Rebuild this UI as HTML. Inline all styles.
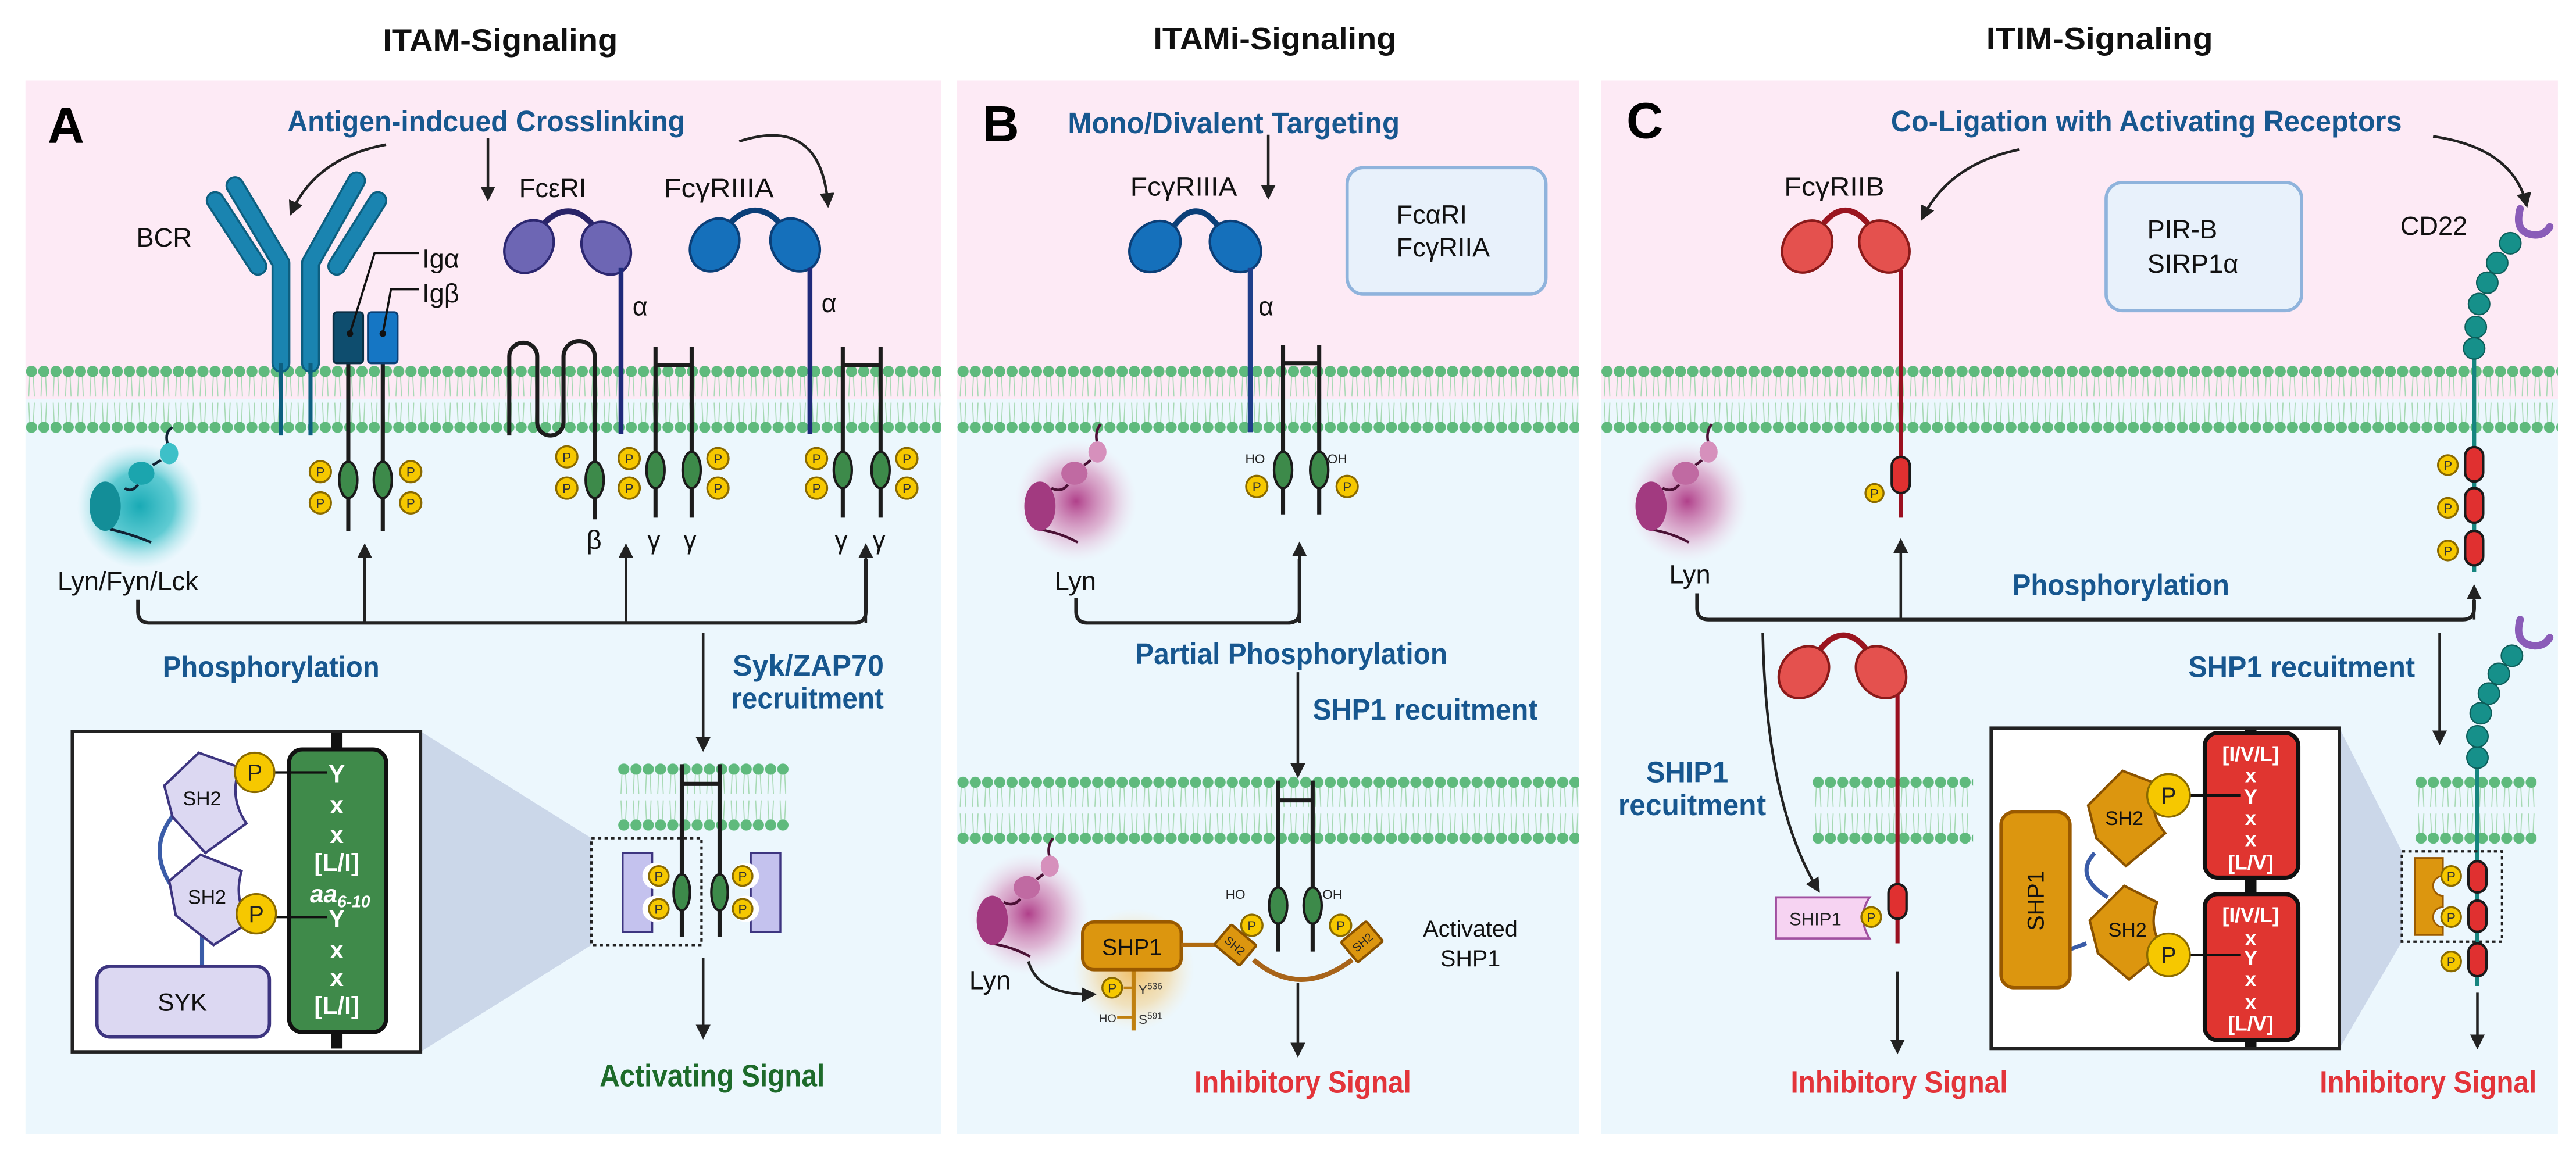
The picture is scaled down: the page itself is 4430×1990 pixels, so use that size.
<!DOCTYPE html>
<html><head><meta charset="utf-8"><style>
html,body{margin:0;padding:0;background:#fff;}
svg{display:block;}
text{font-family:"Liberation Sans","DejaVu Sans",sans-serif;}
.t{font-size:19px;font-weight:bold;fill:#111;}
.L{font-size:31px;font-weight:bold;fill:#000;}
.bl{font-size:18px;font-weight:bold;fill:#17578f;}
.rd{font-size:19px;font-weight:bold;fill:#e3343a;}
.gr{font-size:19px;font-weight:bold;fill:#1d6b2a;}
.n{font-size:16px;fill:#111;}
.s{font-size:14px;fill:#111;}
.wt{font-size:15px;font-weight:bold;fill:#fff;text-anchor:middle;}
.wt2{font-size:12.5px;font-weight:bold;fill:#fff;text-anchor:middle;}
.p{fill:#f6c800;stroke:#8a6a00;stroke-width:1.2;}
.pt{font-size:8px;fill:#333;text-anchor:middle;}
.ch{stroke:#1c1c1c;stroke-width:2.5;fill:none;}
.ov{fill:#3d8a4a;stroke:#1a1a1a;stroke-width:1.5;}
.ar{stroke:#222;stroke-width:1.6;fill:none;marker-end:url(#ah);}
.cn{stroke:#222;stroke-width:2.2;fill:none;}
.itim{fill:#e03030;stroke:#1a1a1a;stroke-width:1.5;}
.sh2l{fill:#dcd8f2;stroke:#3d3580;stroke-width:1.5;}
.sh2o{fill:#dc960f;stroke:#8a5200;stroke-width:1.5;}
</style></head><body>
<svg width="4430" height="1990" viewBox="0 0 1568 704" preserveAspectRatio="none" xmlns="http://www.w3.org/2000/svg">
<defs>
<marker id="ah" markerWidth="9" markerHeight="9" refX="7.5" refY="4.5" orient="auto" markerUnits="userSpaceOnUse">
<path d="M0,0 L9,4.5 L0,9 Z" fill="#222"/></marker>
<pattern id="mem" width="7.45" height="42" patternUnits="userSpaceOnUse">
<path d="M2.6,7 L2,19 M4.8,7 L5.4,19 M2.6,35 L2,23 M4.8,35 L5.4,23" stroke="#a6d9b3" stroke-width="0.6" fill="none"/>
<circle cx="3.7" cy="4" r="3.4" fill="#5fba7d"/><circle cx="3.7" cy="38" r="3.4" fill="#5fba7d"/>
</pattern>
<radialGradient id="gT"><stop offset="0" stop-color="#19aab5"/><stop offset="0.55" stop-color="#3cc0c8" stop-opacity="0.8"/><stop offset="1" stop-color="#9fe0e6" stop-opacity="0"/></radialGradient>
<radialGradient id="gM"><stop offset="0" stop-color="#b0408a"/><stop offset="0.55" stop-color="#d48ab8" stop-opacity="0.6"/><stop offset="1" stop-color="#f0d0e4" stop-opacity="0"/></radialGradient>
<radialGradient id="gO"><stop offset="0" stop-color="#f0b040" stop-opacity="0.8"/><stop offset="0.6" stop-color="#f5cc80" stop-opacity="0.5"/><stop offset="1" stop-color="#fae6c0" stop-opacity="0"/></radialGradient>
</defs>

<text class="t" x="233" y="31" textLength="143" lengthAdjust="spacingAndGlyphs">ITAM-Signaling</text>
<text class="t" x="702" y="30" textLength="148" lengthAdjust="spacingAndGlyphs">ITAMi-Signaling</text>
<text class="t" x="1209" y="30" textLength="138" lengthAdjust="spacingAndGlyphs">ITIM-Signaling</text>

<rect x="15.5" y="49" width="557.5" height="194" fill="#fdeaf5"/>
<rect x="15.5" y="243" width="557.5" height="447" fill="#ecf7fd"/>
<rect x="582.5" y="49" width="378.5" height="194" fill="#fdeaf5"/>
<rect x="582.5" y="243" width="378.5" height="447" fill="#ecf7fd"/>
<rect x="974.5" y="49" width="582.5" height="194" fill="#fdeaf5"/>
<rect x="974.5" y="243" width="582.5" height="447" fill="#ecf7fd"/>

<g transform="translate(15.5,222)"><rect width="557.5" height="42" fill="url(#mem)"/></g>
<g transform="translate(582.5,222)"><rect width="378.5" height="42" fill="url(#mem)"/></g>
<g transform="translate(974.5,222)"><rect width="582.5" height="42" fill="url(#mem)"/></g>

<!-- PANEL A -->
<text class="L" x="29" y="87">A</text>
<text class="bl" x="175" y="80" textLength="242" lengthAdjust="spacingAndGlyphs">Antigen-indcued Crosslinking</text>
<path class="ar" d="M235,88 Q192,96 177,130"/>
<path class="ar" d="M297,84 V121"/>
<path class="ar" d="M450,86 Q500,70 504,125"/>

<text class="n" x="83" y="150">BCR</text>
<g stroke-linecap="round" stroke-linejoin="round" fill="none">
<polyline points="143,113 171,160 171,221" stroke="#0d5f80" stroke-width="11.5"/>
<polyline points="217,110 189,160 189,221" stroke="#0d5f80" stroke-width="11.5"/>
<line x1="131" y1="122" x2="157" y2="162" stroke="#0d5f80" stroke-width="11.5"/>
<line x1="230" y1="122" x2="205" y2="162" stroke="#0d5f80" stroke-width="11.5"/>
<polyline points="143,113 171,160 171,221" stroke="#1a84b0" stroke-width="9"/>
<polyline points="217,110 189,160 189,221" stroke="#1a84b0" stroke-width="9"/>
<line x1="131" y1="122" x2="157" y2="162" stroke="#1a84b0" stroke-width="9"/>
<line x1="230" y1="122" x2="205" y2="162" stroke="#1a84b0" stroke-width="9"/>
</g>
<path d="M171,221 V265 M189,221 V265" stroke="#0d5f80" stroke-width="2.5"/>
<path class="ch" d="M212,220 V323 M233,220 V323"/>
<rect x="203" y="190" width="18" height="31" rx="2" fill="#0e4d6e" stroke="#0a2f45" stroke-width="1.2"/>
<rect x="224" y="190" width="18" height="31" rx="2" fill="#1576c4" stroke="#0a3f75" stroke-width="1.2"/>
<path d="M255,154 H228 L213,203 M255,176 H238 L233,203" stroke="#111" stroke-width="1.3" fill="none"/>
<circle cx="213" cy="203" r="2" fill="#111"/><circle cx="233" cy="203" r="2" fill="#111"/>
<text class="n" x="257" y="163">Igα</text>
<text class="n" x="257" y="184">Igβ</text>
<ellipse class="ov" cx="212" cy="292" rx="5.5" ry="11"/><ellipse class="ov" cx="233" cy="292" rx="5.5" ry="11"/>
<circle class="p" cx="195" cy="287" r="6.5"/><text class="pt" x="195" y="290">P</text>
<circle class="p" cx="195" cy="306" r="6.5"/><text class="pt" x="195" y="309">P</text>
<circle class="p" cx="250" cy="287" r="6.5"/><text class="pt" x="250" y="290">P</text>
<circle class="p" cx="250" cy="306" r="6.5"/><text class="pt" x="250" y="309">P</text>

<text class="n" x="316" y="120">FcεRI</text>
<path d="M330,137 Q346,120 361,137" stroke="#2a2468" stroke-width="3.5" fill="none"/>
<ellipse cx="322" cy="150" rx="14" ry="17" transform="rotate(35 322 150)" fill="#6d66b4" stroke="#2c2770" stroke-width="1.5"/>
<ellipse cx="369" cy="151" rx="14" ry="17" transform="rotate(-35 369 151)" fill="#6d66b4" stroke="#2c2770" stroke-width="1.5"/>
<path d="M378,163 V264" stroke="#1f2a7a" stroke-width="3"/>
<text class="n" x="385" y="192">α</text>
<path class="ch" d="M310,265 V217 A8.5,8.5 0 0 1 327,217 V257 A8,8 0 0 0 343,257 V217 A9.5,9.5 0 0 1 362,217 V316"/>
<ellipse class="ov" cx="362" cy="292" rx="5.5" ry="11"/>
<circle class="p" cx="345" cy="278" r="6.5"/><text class="pt" x="345" y="281">P</text>
<circle class="p" cx="345" cy="297" r="6.5"/><text class="pt" x="345" y="300">P</text>
<path class="ch" d="M399,211 V315 M421,211 V315 M399,222 H421"/>
<ellipse class="ov" cx="399" cy="286" rx="5.5" ry="11"/><ellipse class="ov" cx="421" cy="286" rx="5.5" ry="11"/>
<circle class="p" cx="383" cy="279" r="6.5"/><text class="pt" x="383" y="282">P</text>
<circle class="p" cx="383" cy="297" r="6.5"/><text class="pt" x="383" y="300">P</text>
<circle class="p" cx="437" cy="279" r="6.5"/><text class="pt" x="437" y="282">P</text>
<circle class="p" cx="437" cy="297" r="6.5"/><text class="pt" x="437" y="300">P</text>
<text class="n" x="357" y="334">β</text><text class="n" x="394" y="334">γ</text><text class="n" x="416" y="334">γ</text>

<text class="n" x="404" y="120" textLength="67" lengthAdjust="spacingAndGlyphs">FcγRIIIA</text>
<path d="M444,136 Q460,120 475,136" stroke="#0b3f78" stroke-width="3.5" fill="none"/>
<ellipse cx="435" cy="149" rx="14" ry="17" transform="rotate(35 435 149)" fill="#1570bb" stroke="#0b3f78" stroke-width="1.5"/>
<ellipse cx="484" cy="149" rx="14" ry="17" transform="rotate(-35 484 149)" fill="#1570bb" stroke="#0b3f78" stroke-width="1.5"/>
<path d="M493,163 V264" stroke="#1f2a7a" stroke-width="3"/>
<text class="n" x="500" y="190">α</text>
<path class="ch" d="M513,211 V315 M536,211 V315 M513,222 H536"/>
<ellipse class="ov" cx="513" cy="286" rx="5.5" ry="11"/><ellipse class="ov" cx="536" cy="286" rx="5.5" ry="11"/>
<circle class="p" cx="497" cy="279" r="6.5"/><text class="pt" x="497" y="282">P</text>
<circle class="p" cx="497" cy="297" r="6.5"/><text class="pt" x="497" y="300">P</text>
<circle class="p" cx="552" cy="279" r="6.5"/><text class="pt" x="552" y="282">P</text>
<circle class="p" cx="552" cy="297" r="6.5"/><text class="pt" x="552" y="300">P</text>
<text class="n" x="508" y="334">γ</text><text class="n" x="531" y="334">γ</text>

<circle cx="85" cy="308" r="38" fill="url(#gT)"/>
<path d="M105,260 Q100,263 102,270 M93,283 L98,280 M76,297 Q80,300 84,295 M67,322 Q80,325 92,330" stroke="#123" stroke-width="1.6" fill="none"/>
<ellipse cx="64" cy="308" rx="9.5" ry="15" fill="#138e98"/>
<ellipse cx="86" cy="288" rx="8" ry="7" fill="#1ba5ae"/>
<ellipse cx="103" cy="276" rx="5.5" ry="6.5" fill="#3dc0c8"/>
<text class="n" x="35" y="359">Lyn/Fyn/Lck</text>
<path class="cn" d="M84,365 V372 Q84,379 91,379 H520 Q527,379 527,372 V340"/>
<path class="ar" d="M222,379 V332"/>
<path class="ar" d="M381,379 V332"/>
<path class="ar" d="M527,379 V332"/>

<text class="bl" x="99" y="412" textLength="132" lengthAdjust="spacingAndGlyphs">Phosphorylation</text>
<text class="bl" x="446" y="411" textLength="92" lengthAdjust="spacingAndGlyphs">Syk/ZAP70</text>
<text class="bl" x="445" y="431" textLength="93" lengthAdjust="spacingAndGlyphs">recruitment</text>
<path class="ar" d="M428,385 V456"/>

<polygon points="256,445 360,510 360,575 256,640" fill="#c6d1e5" opacity="0.85"/>
<rect x="44" y="445" width="212" height="195" fill="#fff" stroke="#222" stroke-width="2"/>
<rect x="201.5" y="446" width="7" height="192" fill="#111"/>
<rect x="176" y="456" width="59" height="172" rx="8" fill="#3f8a4a" stroke="#111" stroke-width="2.5"/>
<text class="wt" x="205" y="476">Y</text>
<text class="wt" x="205" y="495">x</text>
<text class="wt" x="205" y="513">x</text>
<text class="wt" x="205" y="530">[L/I]</text>
<text class="wt" x="207" y="549" font-style="italic">aa<tspan font-size="10" dy="3">6-10</tspan></text>
<text class="wt" x="205" y="564">Y</text>
<text class="wt" x="205" y="583">x</text>
<text class="wt" x="205" y="600">x</text>
<text class="wt" x="205" y="617">[L/I]</text>
<path d="M108,493 Q88,515 105,540" stroke="#3a5ca8" stroke-width="2.5" fill="none"/>
<path d="M123,566 V588" stroke="#3a5ca8" stroke-width="2.5"/>
<path class="sh2l" d="M100,478 L121,458 L146,467 Q139,485 150,501 L125,519 L105,497 Z"/>
<path class="sh2l" d="M103,536 L122,520 L147,530 Q142,548 152,561 L130,575 L107,557 Z"/>
<text x="123" y="490" font-size="12" fill="#111" text-anchor="middle">SH2</text>
<text x="126" y="550" font-size="12" fill="#111" text-anchor="middle">SH2</text>
<path d="M166,470 H199 M167,558 H199" stroke="#111" stroke-width="1.5"/>
<circle class="p" cx="155" cy="470" r="12" stroke-width="2"/><text x="155" y="475" font-size="14" text-anchor="middle" fill="#222">P</text>
<circle class="p" cx="156" cy="556" r="12" stroke-width="2"/><text x="156" y="561" font-size="14" text-anchor="middle" fill="#222">P</text>
<rect x="59" y="588" width="105" height="43" rx="8" fill="#dcd8f2" stroke="#3d3580" stroke-width="2"/>
<text x="111" y="615" font-size="15" fill="#111" text-anchor="middle">SYK</text>

<g transform="translate(376,464)"><rect width="104" height="42" fill="url(#mem)"/></g>
<path class="ch" d="M415,465 V570 M438,465 V570 M415,477 H438"/>
<rect x="379" y="519" width="18" height="48" fill="#c4c2ee" stroke="#3d3580" stroke-width="1.2"/>
<rect x="457" y="519" width="18" height="48" fill="#c4c2ee" stroke="#3d3580" stroke-width="1.2"/>
<circle cx="399" cy="533" r="8" fill="#fff"/><circle cx="399" cy="553" r="8" fill="#fff"/>
<circle cx="454" cy="533" r="8" fill="#fff"/><circle cx="454" cy="553" r="8" fill="#fff"/>
<ellipse class="ov" cx="415" cy="543" rx="5" ry="11"/><ellipse class="ov" cx="438" cy="543" rx="5" ry="11"/>
<circle class="p" cx="401" cy="533" r="6"/><text class="pt" x="401" y="536">P</text>
<circle class="p" cx="401" cy="553" r="6"/><text class="pt" x="401" y="556">P</text>
<circle class="p" cx="452" cy="533" r="6"/><text class="pt" x="452" y="536">P</text>
<circle class="p" cx="452" cy="553" r="6"/><text class="pt" x="452" y="556">P</text>
<rect x="360" y="510" width="67" height="65" fill="none" stroke="#222" stroke-width="1.5" stroke-dasharray="2 2"/>
<path class="ar" d="M428,583 V631"/>
<text class="gr" x="365" y="661" textLength="137" lengthAdjust="spacingAndGlyphs">Activating Signal</text>

<!-- PANEL B -->
<text class="L" x="598" y="86">B</text>
<text class="bl" x="650" y="81" textLength="202" lengthAdjust="spacingAndGlyphs">Mono/Divalent Targeting</text>
<path class="ar" d="M772,82 V120"/>
<text class="n" x="688" y="119" textLength="65" lengthAdjust="spacingAndGlyphs">FcγRIIIA</text>
<path d="M715,137 Q728,120 741,137" stroke="#0b3f78" stroke-width="3.5" fill="none"/>
<ellipse cx="703" cy="150" rx="14" ry="17" transform="rotate(45 703 150)" fill="#1570bb" stroke="#0b3f78" stroke-width="1.5"/>
<ellipse cx="752" cy="150" rx="14" ry="17" transform="rotate(-45 752 150)" fill="#1570bb" stroke="#0b3f78" stroke-width="1.5"/>
<path d="M761,163 V263" stroke="#1f3f8a" stroke-width="3"/>
<text class="n" x="766" y="192">α</text>
<path class="ch" d="M781,210 V313 M803,210 V313 M781,221 H803"/>
<ellipse class="ov" cx="781" cy="286" rx="5.5" ry="11"/><ellipse class="ov" cx="803" cy="286" rx="5.5" ry="11"/>
<text x="758" y="282" font-size="8" fill="#222">HO</text><text x="808" y="282" font-size="8" fill="#222">OH</text>
<circle class="p" cx="765" cy="296" r="6.5"/><text class="pt" x="765" y="299">P</text>
<circle class="p" cx="820" cy="296" r="6.5"/><text class="pt" x="820" y="299">P</text>
<rect x="820" y="102" width="121" height="77" rx="10" fill="#e8f1fb" stroke="#8fb3dc" stroke-width="2"/>
<text class="n" x="850" y="136">FcαRI</text>
<text class="n" x="850" y="156">FcγRIIA</text>

<circle cx="655" cy="305" r="37" fill="url(#gM)"/>
<path d="M670,258 Q666,263 668,270 M660,283 L664,280 M640,297 Q646,300 650,295 M632,322 Q645,324 656,330" stroke="#4a1034" stroke-width="1.6" fill="none"/>
<ellipse cx="633" cy="308" rx="9.5" ry="15" fill="#a23a80"/>
<ellipse cx="654" cy="288" rx="8" ry="7" fill="#c06aa2"/>
<ellipse cx="668" cy="275" rx="5.5" ry="6.5" fill="#d690bc"/>
<text class="n" x="642" y="359">Lyn</text>
<path class="cn" d="M655,364 V372 Q655,379 662,379 H784 Q791,379 791,372 V340"/>
<path class="ar" d="M791,379 V331"/>
<text class="bl" x="691" y="404" textLength="190" lengthAdjust="spacingAndGlyphs">Partial Phosphorylation</text>
<text class="bl" x="799" y="438" textLength="137" lengthAdjust="spacingAndGlyphs">SHP1 recuitment</text>
<path class="ar" d="M790,409 V472"/>
<g transform="translate(582.5,472)"><rect width="378.5" height="42" fill="url(#mem)"/></g>
<path class="ch" d="M778,475 V579 M799,475 V579 M778,487 H799"/>
<ellipse class="ov" cx="778" cy="551" rx="5.5" ry="11"/><ellipse class="ov" cx="799" cy="551" rx="5.5" ry="11"/>
<text x="746" y="547" font-size="8" fill="#222">HO</text><text x="805" y="547" font-size="8" fill="#222">OH</text>
<circle class="p" cx="762" cy="563" r="6.5"/><text class="pt" x="762" y="566">P</text>
<circle class="p" cx="816" cy="563" r="6.5"/><text class="pt" x="816" y="566">P</text>

<circle cx="626" cy="556" r="37" fill="url(#gM)"/>
<path d="M641,510 Q637,515 639,522 M631,535 L635,532 M611,549 Q617,552 621,547 M603,574 Q616,576 627,582" stroke="#4a1034" stroke-width="1.6" fill="none"/>
<ellipse cx="604" cy="560" rx="9.5" ry="15" fill="#a23a80"/>
<ellipse cx="625" cy="540" rx="8" ry="7" fill="#c06aa2"/>
<ellipse cx="639" cy="527" rx="5.5" ry="6.5" fill="#d690bc"/>
<text class="n" x="590" y="602">Lyn</text>
<circle cx="690" cy="590" r="37" fill="url(#gO)"/>
<path class="ar" d="M626,585 Q632,606 666,605"/>
<path d="M690,590 V627" stroke="#c08010" stroke-width="2.5"/>
<path d="M684,601 H690 M680,619 H690" stroke="#c08010" stroke-width="1.5"/>
<circle class="p" cx="677" cy="601" r="6"/><text class="pt" x="677" y="604">P</text>
<text x="693" y="605" font-size="8" fill="#333">Y<tspan font-size="5.5" dy="-3">536</tspan></text>
<text x="669" y="622" font-size="7" fill="#333">HO</text>
<text x="693" y="623" font-size="8" fill="#333">S<tspan font-size="5.5" dy="-3">591</tspan></text>
<rect x="659" y="561" width="60" height="29" rx="7" fill="#dc960f" stroke="#9a5a00" stroke-width="2"/>
<text x="689" y="581" font-size="14" fill="#111" text-anchor="middle">SHP1</text>
<path d="M719,575 H741" stroke="#b06a10" stroke-width="2.5"/>
<path d="M763,584 Q791,608 823,584" stroke="#a8641a" stroke-width="3" fill="none"/>
<g transform="translate(752,575) rotate(40)"><rect class="sh2o" x="-10" y="-8" width="20" height="16" rx="1"/><text x="0" y="3" font-size="7" text-anchor="middle" fill="#222">SH2</text></g>
<g transform="translate(829,573) rotate(-40)"><rect class="sh2o" x="-10" y="-8" width="20" height="16" rx="1"/><text x="0" y="3" font-size="7" text-anchor="middle" fill="#222">SH2</text></g>
<text x="895" y="570" font-size="14" fill="#111" text-anchor="middle">Activated</text>
<text x="895" y="588" font-size="14" fill="#111" text-anchor="middle">SHP1</text>
<path class="ar" d="M790,598 V642"/>
<text class="rd" x="727" y="665" textLength="132" lengthAdjust="spacingAndGlyphs">Inhibitory Signal</text>

<!-- PANEL C -->
<text class="L" x="990" y="84">C</text>
<text class="bl" x="1151" y="80" textLength="311" lengthAdjust="spacingAndGlyphs">Co-Ligation with Activating Receptors</text>
<path class="ar" d="M1229,91 Q1186,100 1170,133"/>
<path class="ar" d="M1481,83 Q1530,90 1538,125"/>
<text class="n" x="1086" y="119" textLength="61" lengthAdjust="spacingAndGlyphs">FcγRIIB</text>
<path d="M1110,136 Q1123,120 1137,136" stroke="#9a1520" stroke-width="3.5" fill="none"/>
<ellipse cx="1100" cy="150" rx="14" ry="17" transform="rotate(40 1100 150)" fill="#e4514e" stroke="#8a1a1a" stroke-width="1.5"/>
<ellipse cx="1147" cy="150" rx="14" ry="17" transform="rotate(-40 1147 150)" fill="#e4514e" stroke="#8a1a1a" stroke-width="1.5"/>
<path d="M1157,164 V315" stroke="#9a1020" stroke-width="2.5"/>
<rect class="itim" x="1151.5" y="278" width="11" height="22" rx="5.5"/>
<circle class="p" cx="1141" cy="300" r="5.5"/><text class="pt" x="1141" y="303">P</text>
<rect x="1282" y="111" width="119" height="78" rx="10" fill="#e8f1fb" stroke="#8fb3dc" stroke-width="2"/>
<text class="n" x="1307" y="145">PIR-B</text>
<text class="n" x="1307" y="166">SIRP1α</text>
<text class="n" x="1461" y="143">CD22</text>
<path d="M1534,127 Q1530,142 1543,143 Q1549,143 1552,138" stroke="#8a5cb8" stroke-width="4.5" fill="none" stroke-linecap="round"/>
<path d="M1506,212 V348" stroke="#16857f" stroke-width="2.5"/>
<g fill="#16908a" stroke="#0d5e5a" stroke-width="0.8">
<circle cx="1528" cy="148" r="6.5"/><circle cx="1520" cy="160" r="6.5"/><circle cx="1514" cy="172" r="6.5"/><circle cx="1509" cy="185" r="6.5"/><circle cx="1507" cy="199" r="6.5"/><circle cx="1506" cy="212" r="6.5"/>
</g>
<rect class="itim" x="1500.5" y="272" width="11" height="21" rx="5.5"/>
<rect class="itim" x="1500.5" y="297" width="11" height="21" rx="5.5"/>
<rect class="itim" x="1500.5" y="323" width="11" height="21" rx="5.5"/>
<circle class="p" cx="1490" cy="283" r="6"/><text class="pt" x="1490" y="286">P</text>
<circle class="p" cx="1490" cy="309" r="6"/><text class="pt" x="1490" y="312">P</text>
<circle class="p" cx="1490" cy="335" r="6"/><text class="pt" x="1490" y="338">P</text>

<circle cx="1027" cy="305" r="37" fill="url(#gM)"/>
<path d="M1042,258 Q1038,263 1040,270 M1032,283 L1036,280 M1012,297 Q1018,300 1022,295 M1004,322 Q1017,324 1028,330" stroke="#4a1034" stroke-width="1.6" fill="none"/>
<ellipse cx="1005" cy="308" rx="9.5" ry="15" fill="#a23a80"/>
<ellipse cx="1026" cy="288" rx="8" ry="7" fill="#c06aa2"/>
<ellipse cx="1040" cy="275" rx="5.5" ry="6.5" fill="#d690bc"/>
<text class="n" x="1016" y="355">Lyn</text>
<path class="cn" d="M1033,361 V370 Q1033,377 1040,377 H1499 Q1506,377 1506,370 V365"/>
<path class="ar" d="M1506,377 V357"/>
<path class="ar" d="M1157,377 V329"/>
<text class="bl" x="1225" y="362" textLength="132" lengthAdjust="spacingAndGlyphs">Phosphorylation</text>

<g transform="translate(1103,472)"><rect width="98" height="42" fill="url(#mem)"/></g>
<path d="M1108,395 Q1122,378 1136,395" stroke="#9a1520" stroke-width="3.5" fill="none"/>
<ellipse cx="1098" cy="409" rx="14" ry="17" transform="rotate(40 1098 409)" fill="#e4514e" stroke="#8a1a1a" stroke-width="1.5"/>
<ellipse cx="1145" cy="409" rx="14" ry="17" transform="rotate(-40 1145 409)" fill="#e4514e" stroke="#8a1a1a" stroke-width="1.5"/>
<path d="M1155,423 V574" stroke="#9a1020" stroke-width="2.5"/>
<rect class="itim" x="1149.5" y="538" width="11" height="21" rx="5.5"/>
<path d="M1081,546 H1138 Q1130,558 1138,571 H1081 Z" fill="#f6d3f2" stroke="#a050a0" stroke-width="1.3"/>
<text x="1105" y="563" font-size="11" fill="#222" text-anchor="middle">SHIP1</text>
<circle class="p" cx="1139" cy="558" r="6"/><text class="pt" x="1139" y="561">P</text>
<text class="bl" x="1002" y="476" textLength="50" lengthAdjust="spacingAndGlyphs">SHIP1</text>
<text class="bl" x="985" y="496" textLength="90" lengthAdjust="spacingAndGlyphs">recuitment</text>
<path class="ar" d="M1073,385 Q1075,490 1107,542"/>
<path class="ar" d="M1155,591 V640"/>
<text class="rd" x="1090" y="665" textLength="132" lengthAdjust="spacingAndGlyphs">Inhibitory Signal</text>

<text class="bl" x="1332" y="412" textLength="138" lengthAdjust="spacingAndGlyphs">SHP1 recuitment</text>
<path class="ar" d="M1485,385 V452"/>

<polygon points="1424,443 1462,518 1462,573 1424,638" fill="#c6d1e5" opacity="0.85"/>
<rect x="1212" y="443" width="212" height="195" fill="#fff" stroke="#222" stroke-width="2"/>
<rect x="1366.5" y="444" width="7" height="193" fill="#111"/>
<rect x="1342" y="446" width="57" height="88" rx="8" fill="#e03530" stroke="#111" stroke-width="2.5"/>
<rect x="1342" y="544" width="57" height="89" rx="8" fill="#e03530" stroke="#111" stroke-width="2.5"/>
<text class="wt2" x="1370" y="463">[I/V/L]</text>
<text class="wt2" x="1370" y="476">x</text>
<text class="wt2" x="1370" y="489">Y</text>
<text class="wt2" x="1370" y="502">x</text>
<text class="wt2" x="1370" y="515">x</text>
<text class="wt2" x="1370" y="529">[L/V]</text>
<text class="wt2" x="1370" y="561">[I/V/L]</text>
<text class="wt2" x="1370" y="575">x</text>
<text class="wt2" x="1370" y="587">Y</text>
<text class="wt2" x="1370" y="600">x</text>
<text class="wt2" x="1370" y="614">x</text>
<text class="wt2" x="1370" y="627">[L/V]</text>
<path d="M1275,519 Q1262,533 1283,546 M1270,574 L1259,578" stroke="#3a5ca8" stroke-width="2.5" fill="none"/>
<rect x="1218" y="494" width="42" height="107" rx="8" fill="#dc960f" stroke="#9a5a00" stroke-width="2"/>
<text x="0" y="0" font-size="14" fill="#111" text-anchor="middle" transform="translate(1244,548) rotate(-90)">SHP1</text>
<path class="sh2o" d="M1271,490 L1292,469 L1313,477 Q1307,494 1318,507 L1294,527 L1276,510 Z"/>
<path class="sh2o" d="M1272,560 L1293,539 L1313,549 Q1307,566 1318,578 L1296,596 L1277,580 Z"/>
<text x="1293" y="502" font-size="12" fill="#111" text-anchor="middle">SH2</text>
<text x="1295" y="570" font-size="12" fill="#111" text-anchor="middle">SH2</text>
<path d="M1332,484 H1364 M1332,581 H1364" stroke="#111" stroke-width="1.5"/>
<circle class="p" cx="1320" cy="484" r="13" stroke-width="2"/><text x="1320" y="489" font-size="14" text-anchor="middle" fill="#222">P</text>
<circle class="p" cx="1320" cy="581" r="13" stroke-width="2"/><text x="1320" y="586" font-size="14" text-anchor="middle" fill="#222">P</text>

<g transform="translate(1470,472)"><rect width="74" height="42" fill="url(#mem)"/></g>
<path d="M1534,377 Q1530,392 1543,393 Q1549,393 1552,388" stroke="#8a5cb8" stroke-width="4.5" fill="none" stroke-linecap="round"/>
<path d="M1508,461 V600" stroke="#16857f" stroke-width="2.5"/>
<g fill="#16908a" stroke="#0d5e5a" stroke-width="0.8">
<circle cx="1529" cy="399" r="6.5"/><circle cx="1521" cy="410" r="6.5"/><circle cx="1515" cy="422" r="6.5"/><circle cx="1510" cy="434" r="6.5"/><circle cx="1508" cy="448" r="6.5"/><circle cx="1508" cy="461" r="6.5"/>
</g>
<path d="M1470,522 H1487 V533 A6,6 0 0 0 1487,545 V552 A6,6 0 0 0 1487,564 V569 H1470 Z" fill="#dc960f" stroke="#9a5a00" stroke-width="1"/>
<rect class="itim" x="1502.5" y="524" width="11" height="19" rx="5.5"/>
<rect class="itim" x="1502.5" y="548" width="11" height="19" rx="5.5"/>
<rect class="itim" x="1502.5" y="574" width="11" height="20" rx="5.5"/>
<circle class="p" cx="1492" cy="533" r="6"/><text class="pt" x="1492" y="536">P</text>
<circle class="p" cx="1492" cy="558" r="6"/><text class="pt" x="1492" y="561">P</text>
<circle class="p" cx="1492" cy="585" r="6"/><text class="pt" x="1492" y="588">P</text>
<rect x="1462" y="518" width="61" height="55" fill="none" stroke="#222" stroke-width="1.5" stroke-dasharray="2 2"/>
<path class="ar" d="M1508,604 V637"/>
<text class="rd" x="1412" y="665" textLength="132" lengthAdjust="spacingAndGlyphs">Inhibitory Signal</text>
</svg>
</body></html>
